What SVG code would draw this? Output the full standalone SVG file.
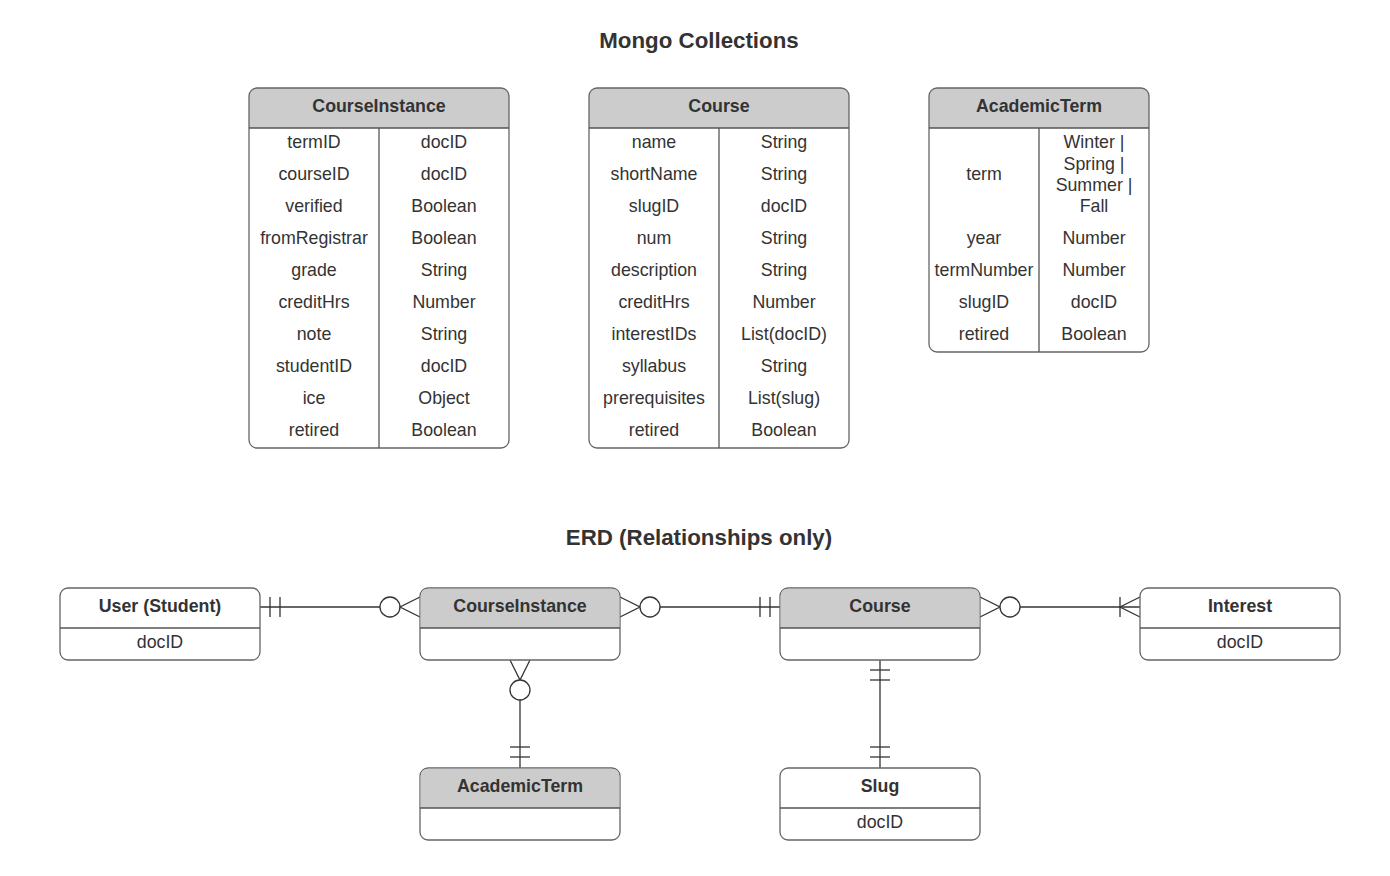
<svg xmlns="http://www.w3.org/2000/svg" width="1390" height="876" viewBox="0 0 1390 876">
<style>
text{font-family:"Liberation Sans",Arial,sans-serif;fill:#333;text-anchor:middle}
.t{font-size:17.8px}
.h{font-size:17.8px;font-weight:bold}
.title{font-size:22.3px;font-weight:bold}
.box{fill:#fff;stroke:#666;stroke-width:1.3}
.hdr{fill:#ccc;stroke:none}
.ln{stroke:#555;stroke-width:1.3;fill:none}
.c{stroke:#333;stroke-width:1.3;fill:none}
.o{stroke:#333;stroke-width:1.3;fill:#fff}
</style>
<rect width="1390" height="876" fill="#fff"/>
<text class="title" x="699" y="48">Mongo Collections</text>
<text class="title" x="699" y="545">ERD (Relationships only)</text>

<g id="tbl-courseinstance">
<path class="hdr" d="M249,128 V96 a8,8 0 0 1 8,-8 H501 a8,8 0 0 1 8,8 V128 Z"/>
<rect class="box" x="249" y="88" width="260" height="360" rx="8" style="fill:none"/>
<line class="ln" x1="249" y1="128" x2="509" y2="128"/>
<line class="ln" x1="379" y1="128" x2="379" y2="448"/>
<text class="h" x="379" y="112">CourseInstance</text>
<text class="t" x="314" y="148">termID</text><text class="t" x="444" y="148">docID</text>
<text class="t" x="314" y="180">courseID</text><text class="t" x="444" y="180">docID</text>
<text class="t" x="314" y="212">verified</text><text class="t" x="444" y="212">Boolean</text>
<text class="t" x="314" y="244">fromRegistrar</text><text class="t" x="444" y="244">Boolean</text>
<text class="t" x="314" y="276">grade</text><text class="t" x="444" y="276">String</text>
<text class="t" x="314" y="308">creditHrs</text><text class="t" x="444" y="308">Number</text>
<text class="t" x="314" y="340">note</text><text class="t" x="444" y="340">String</text>
<text class="t" x="314" y="372">studentID</text><text class="t" x="444" y="372">docID</text>
<text class="t" x="314" y="404">ice</text><text class="t" x="444" y="404">Object</text>
<text class="t" x="314" y="436">retired</text><text class="t" x="444" y="436">Boolean</text>
</g>

<g id="tbl-course">
<path class="hdr" d="M589,128 V96 a8,8 0 0 1 8,-8 H841 a8,8 0 0 1 8,8 V128 Z"/>
<rect class="box" x="589" y="88" width="260" height="360" rx="8" style="fill:none"/>
<line class="ln" x1="589" y1="128" x2="849" y2="128"/>
<line class="ln" x1="719" y1="128" x2="719" y2="448"/>
<text class="h" x="719" y="112">Course</text>
<text class="t" x="654" y="148">name</text><text class="t" x="784" y="148">String</text>
<text class="t" x="654" y="180">shortName</text><text class="t" x="784" y="180">String</text>
<text class="t" x="654" y="212">slugID</text><text class="t" x="784" y="212">docID</text>
<text class="t" x="654" y="244">num</text><text class="t" x="784" y="244">String</text>
<text class="t" x="654" y="276">description</text><text class="t" x="784" y="276">String</text>
<text class="t" x="654" y="308">creditHrs</text><text class="t" x="784" y="308">Number</text>
<text class="t" x="654" y="340">interestIDs</text><text class="t" x="784" y="340">List(docID)</text>
<text class="t" x="654" y="372">syllabus</text><text class="t" x="784" y="372">String</text>
<text class="t" x="654" y="404">prerequisites</text><text class="t" x="784" y="404">List(slug)</text>
<text class="t" x="654" y="436">retired</text><text class="t" x="784" y="436">Boolean</text>
</g>

<g id="tbl-academicterm">
<path class="hdr" d="M929,128 V96 a8,8 0 0 1 8,-8 H1141 a8,8 0 0 1 8,8 V128 Z"/>
<rect class="box" x="929" y="88" width="220" height="264" rx="8" style="fill:none"/>
<line class="ln" x1="929" y1="128" x2="1149" y2="128"/>
<line class="ln" x1="1039" y1="128" x2="1039" y2="352"/>
<text class="h" x="1039" y="112">AcademicTerm</text>
<text class="t" x="984" y="180">term</text>
<text class="t" x="1094" y="148">Winter |</text>
<text class="t" x="1094" y="170">Spring |</text>
<text class="t" x="1094" y="191">Summer |</text>
<text class="t" x="1094" y="212">Fall</text>
<text class="t" x="984" y="244">year</text><text class="t" x="1094" y="244">Number</text>
<text class="t" x="984" y="276">termNumber</text><text class="t" x="1094" y="276">Number</text>
<text class="t" x="984" y="308">slugID</text><text class="t" x="1094" y="308">docID</text>
<text class="t" x="984" y="340">retired</text><text class="t" x="1094" y="340">Boolean</text>
</g>

<g id="connectors">
<line class="c" x1="260" y1="607" x2="380" y2="607"/>
<line class="c" x1="270" y1="597" x2="270" y2="617"/>
<line class="c" x1="280" y1="597" x2="280" y2="617"/>
<circle class="o" cx="390" cy="607" r="10"/>
<path class="c" d="M420,597 L400,607 L420,617"/>
<path class="c" d="M620,597 L640,607 L620,617"/>
<circle class="o" cx="650" cy="607" r="10"/>
<line class="c" x1="660" y1="607" x2="780" y2="607"/>
<line class="c" x1="760" y1="597" x2="760" y2="617"/>
<line class="c" x1="770" y1="597" x2="770" y2="617"/>
<path class="c" d="M980,597 L1000,607 L980,617"/>
<circle class="o" cx="1010" cy="607" r="10"/>
<line class="c" x1="1020" y1="607" x2="1140" y2="607"/>
<line class="c" x1="1120" y1="597" x2="1120" y2="617"/>
<path class="c" d="M1140,597 L1120,607 L1140,617"/>
<path class="c" d="M510,660 L520,680 L530,660"/>
<circle class="o" cx="520" cy="690" r="10"/>
<line class="c" x1="520" y1="700" x2="520" y2="768"/>
<line class="c" x1="510" y1="747" x2="530" y2="747"/>
<line class="c" x1="510" y1="757" x2="530" y2="757"/>
<line class="c" x1="880" y1="660" x2="880" y2="768"/>
<line class="c" x1="870" y1="670" x2="890" y2="670"/>
<line class="c" x1="870" y1="680" x2="890" y2="680"/>
<line class="c" x1="870" y1="747" x2="890" y2="747"/>
<line class="c" x1="870" y1="757" x2="890" y2="757"/>
</g>

<g id="erd-user">
<rect class="box" x="60" y="588" width="200" height="72" rx="8"/>
<line class="ln" x1="60" y1="628" x2="260" y2="628"/>
<text class="h" x="160" y="612">User (Student)</text>
<text class="t" x="160" y="648">docID</text>
</g>

<g id="erd-courseinstance">
<rect class="box" x="420" y="588" width="200" height="72" rx="8"/>
<path class="hdr" d="M420.7,628 V596 a7.3,7.3 0 0 1 7.3,-7.3 H612 a7.3,7.3 0 0 1 7.3,7.3 V628 Z"/>
<line class="ln" x1="420" y1="628" x2="620" y2="628"/>
<text class="h" x="520" y="612">CourseInstance</text>
</g>

<g id="erd-course">
<rect class="box" x="780" y="588" width="200" height="72" rx="8"/>
<path class="hdr" d="M780.7,628 V596 a7.3,7.3 0 0 1 7.3,-7.3 H972 a7.3,7.3 0 0 1 7.3,7.3 V628 Z"/>
<line class="ln" x1="780" y1="628" x2="980" y2="628"/>
<text class="h" x="880" y="612">Course</text>
</g>

<g id="erd-interest">
<rect class="box" x="1140" y="588" width="200" height="72" rx="8"/>
<line class="ln" x1="1140" y1="628" x2="1340" y2="628"/>
<text class="h" x="1240" y="612">Interest</text>
<text class="t" x="1240" y="648">docID</text>
</g>

<g id="erd-academicterm">
<rect class="box" x="420" y="768" width="200" height="72" rx="8"/>
<path class="hdr" d="M420.7,808 V776 a7.3,7.3 0 0 1 7.3,-7.3 H612 a7.3,7.3 0 0 1 7.3,7.3 V808 Z"/>
<line class="ln" x1="420" y1="808" x2="620" y2="808"/>
<text class="h" x="520" y="792">AcademicTerm</text>
</g>

<g id="erd-slug">
<rect class="box" x="780" y="768" width="200" height="72" rx="8"/>
<line class="ln" x1="780" y1="808" x2="980" y2="808"/>
<text class="h" x="880" y="792">Slug</text>
<text class="t" x="880" y="828">docID</text>
</g>
</svg>
